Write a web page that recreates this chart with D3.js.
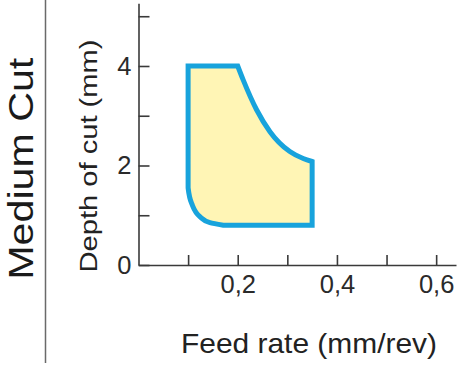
<!DOCTYPE html>
<html lang="en">
<head>
    <meta charset="UTF-8">
    <title>Medium Cut - feed rate vs depth of cut</title>
    <script src="https://cdnjs.cloudflare.com/ajax/libs/d3/7.8.5/d3.min.js"></script>
</head>
<style>
    body { margin: 0; background: #fff; }
    svg { display: block; font-family: "Liberation Sans", Arial, sans-serif; }
    .axis path, .axis line { stroke: #3a3a3a; stroke-width: 1.6; }
    .axis text { fill: #2a2a2a; font-size: 25.5px; font-family: "Liberation Sans", Arial, sans-serif; }
</style>
<body>
    <svg id="chart" width="466" height="365"></svg>
</body>
<script>
    // axis ticks
    const xTicks = [0.1, 0.2, 0.3, 0.4, 0.5, 0.6];
    const xTickLabels = ["", "0,2", "", "0,4", "", "0,6"];
    const yTicks = [0, 1, 2, 3, 4, 5];
    const yTickLabels = ["0", "", "2", "", "4", ""];

    // outline of the working area (feed mm/rev, depth mm)
    const leftEdgeFeed = [0.1, 0.1, 0.2];
    const leftEdgeDepth = [1.55, 4, 4];
    const upperCurveFeed = [0.2, 0.211, 0.238, 0.265, 0.305, 0.332, 0.35];
    const upperCurveDepth = [4, 3.72, 3.12, 2.68, 2.28, 2.14, 2.08];
    const lowerEdgeFeed = [0.35, 0.35, 0.171];
    const lowerEdgeDepth = [2.08, 0.8, 0.8];
    const cornerFeed = [0.171, 0.144, 0.124, 0.107, 0.1];
    const cornerDepth = [0.8, 0.85, 0.97, 1.24, 1.55];

    const svg = d3.select("#chart");
    const x = d3.scaleLinear().domain([0, 0.64]).range([138.5, 456]);
    const y = d3.scaleLinear().domain([0, 5.26]).range([265, 3.3]);

    const zip = (a, b) => a.map((v, i) => [v, b[i]]);
    const lin = d3.line().x(d => x(d[0])).y(d => y(d[1]));
    const monoX = d3.line().x(d => x(d[0])).y(d => y(d[1])).curve(d3.curveMonotoneX);
    const monoY = d3.line().x(d => x(d[0])).y(d => y(d[1])).curve(d3.curveMonotoneY);
    // join segments into one path: later segments continue instead of moving
    const cont = s => "L" + s.slice(1);

    const outline = lin(zip(leftEdgeFeed, leftEdgeDepth))
        + cont(monoX(zip(upperCurveFeed, upperCurveDepth)))
        + cont(lin(zip(lowerEdgeFeed, lowerEdgeDepth)))
        + cont(monoY(zip(cornerFeed, cornerDepth)))
        + "Z";

    svg.append("path")
        .attr("d", outline)
        .attr("fill", "#fff5b5")
        .attr("stroke", "#18a3dc")
        .attr("stroke-width", 5)
        .attr("stroke-linejoin", "miter");

    // axes, ticks pointing inward
    svg.append("g")
        .attr("class", "axis")
        .attr("transform", `translate(0,${y(0)})`)
        .call(d3.axisBottom(x).tickValues(xTicks)
            .tickFormat((d, i) => xTickLabels[i])
            .tickSizeInner(-10).tickSizeOuter(0).tickPadding(10));

    svg.append("g")
        .attr("class", "axis")
        .attr("transform", `translate(${x(0)},0)`)
        .call(d3.axisLeft(y).tickValues(yTicks)
            .tickFormat((d, i) => yTickLabels[i])
            .tickSizeInner(-11).tickSizeOuter(0).tickPadding(7));

    // titles
    svg.append("text")
        .attr("transform", "translate(96.5,156) rotate(-90)")
        .attr("text-anchor", "middle")
        .attr("font-size", 23.5)
        .attr("fill", "#222")
        .attr("textLength", 233)
        .attr("lengthAdjust", "spacingAndGlyphs")
        .text("Depth of cut (mm)");

    svg.append("text")
        .attr("x", 309)
        .attr("y", 353.3)
        .attr("text-anchor", "middle")
        .attr("font-size", 28)
        .attr("fill", "#222")
        .attr("textLength", 256)
        .attr("lengthAdjust", "spacingAndGlyphs")
        .text("Feed rate (mm/rev)");

    svg.append("text")
        .attr("transform", "translate(33.3,168.7) rotate(-90)")
        .attr("text-anchor", "middle")
        .attr("font-size", 35)
        .attr("fill", "#1a1a1a")
        .attr("textLength", 222)
        .attr("lengthAdjust", "spacingAndGlyphs")
        .text("Medium Cut");

    // divider
    svg.append("line")
        .attr("x1", 45.5).attr("x2", 45.5)
        .attr("y1", 0).attr("y2", 363)
        .attr("stroke", "#6a6a6a")
        .attr("stroke-width", 1.5);
</script>
</html>
